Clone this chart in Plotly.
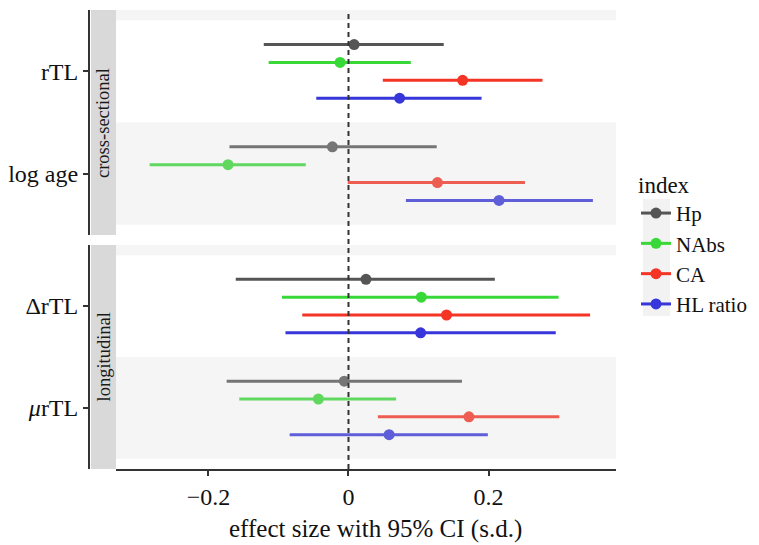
import plotly.graph_objects as go

W, H = 759, 545

# ---------------- data ----------------
indices = ["Hp", "NAbs", "CA", "HL ratio"]
colors = ["#555555", "#38D838", "#F43424", "#3636DA"]

panel_top = ["rTL", "log age"]
panel_bot = ["ΔrTL", "<i>μ</i>rTL"]
strip_labels = ["cross-sectional", "longitudinal"]
x_title = "effect size with 95% CI (s.d.)"

# estimates [rTL, log age, ΔrTL, μrTL]
est = {
    "Hp":       [0.008, -0.023, 0.025, -0.006],
    "NAbs":     [-0.012, -0.172, 0.104, -0.043],
    "CA":       [0.163, 0.127, 0.140, 0.172],
    "HL ratio": [0.073, 0.215, 0.103, 0.058],
}
lo = {
    "Hp":       [-0.121, -0.170, -0.161, -0.174],
    "NAbs":     [-0.114, -0.284, -0.095, -0.156],
    "CA":       [0.049, -0.001, -0.066, 0.042],
    "HL ratio": [-0.046, 0.082, -0.090, -0.084],
}
hi = {
    "Hp":       [0.136, 0.126, 0.209, 0.162],
    "NAbs":     [0.089, -0.061, 0.300, 0.068],
    "CA":       [0.277, 0.252, 0.345, 0.301],
    "HL ratio": [0.190, 0.349, 0.296, 0.199],
}
x_ticks = [-0.2, 0, 0.2]
x_ticklabels = ["−0.2", "0", "0.2"]

# ---------------- layout helpers ----------------
def px_x(p):
    return p / W

def px_y(p):
    return 1 - p / H

FONT = "Liberation Serif"
dodge = 0.7
n = len(indices)
offsets = [dodge * (0.5 - (i + 0.5) / n) for i in range(n)]  # Hp on top

# category numeric positions: first label on top (2), second below (1)
cat_pos = [2, 1]

fig = go.Figure()

for i, name in enumerate(indices):
    c = colors[i]
    for panel, (yax, sl) in enumerate([("y", slice(0, 2)), ("y2", slice(2, 4))]):
        e = est[name][sl]
        l = lo[name][sl]
        h = hi[name][sl]
        ys = [p + offsets[i] for p in cat_pos]
        fig.add_trace(go.Scatter(
            x=e, y=ys, mode="markers", yaxis=yax, xaxis="x",
            marker=dict(color=c, size=11),
            error_x=dict(type="data", symmetric=False,
                         array=[b - a for a, b in zip(e, h)],
                         arrayminus=[a - b for a, b in zip(e, l)],
                         color=c, thickness=3, width=0),
            showlegend=False, hoverinfo="skip",
        ))
    # legend-only entry
    fig.add_trace(go.Scatter(
        x=[None], y=[None], mode="lines+markers", name=name,
        line=dict(color=c, width=3), marker=dict(color=c, size=11),
        xaxis="x", yaxis="y",
    ))

xdom = [px_x(116), px_x(616)]
top_dom = [px_y(235), px_y(10)]
bot_dom = [px_y(469), px_y(245)]

axis_col = "#333333"
tickfont = dict(family=FONT, size=24, color="#111111")

fig.update_layout(
    width=W, height=H,
    margin=dict(l=0, r=0, t=0, b=0, autoexpand=False),
    paper_bgcolor="white", plot_bgcolor="white",
    font=dict(family=FONT, size=22, color="#111111"),
    xaxis=dict(domain=xdom, range=[-0.332, 0.382], anchor="y2",
               tickvals=x_ticks, ticktext=x_ticklabels, ticks="outside",
               ticklen=5, tickwidth=1.5, tickcolor=axis_col,
               showline=True, linecolor=axis_col, linewidth=2,
               showgrid=False, zeroline=False, tickfont=tickfont),
    yaxis=dict(domain=top_dom, range=[0.4, 2.6], anchor="free",
               position=px_x(89), tickvals=cat_pos, ticktext=panel_top,
               ticks="outside", ticklen=5, tickwidth=1.5, tickcolor=axis_col,
               showline=True, linecolor=axis_col, linewidth=2,
               showgrid=False, zeroline=False, tickfont=tickfont),
    yaxis2=dict(domain=bot_dom, range=[0.4, 2.6], anchor="free",
                position=px_x(89), tickvals=cat_pos, ticktext=panel_bot,
                ticks="outside", ticklen=5, tickwidth=1.5, tickcolor=axis_col,
                showline=True, linecolor=axis_col, linewidth=2,
                showgrid=False, zeroline=False, tickfont=tickfont),
    legend=dict(x=px_x(636), y=px_y(163), xanchor="left", yanchor="top",
                bgcolor="rgba(0,0,0,0)",
                font=dict(family=FONT, size=21, color="#111111"),
                title=dict(text="index", font=dict(family=FONT, size=23)),
                itemwidth=30, tracegroupgap=0),
)

shapes = []
# stripe overlays (drawn above data, semi-transparent)
for yref in ["y", "y2"]:
    for (a, b) in [(0.5, 1.5), (2.5, 2.6)]:
        shapes.append(dict(type="rect", xref="x domain", yref=yref,
                           x0=0, x1=1, y0=a, y1=b, layer="above",
                           line=dict(width=0),
                           fillcolor="rgba(215,215,215,0.25)"))
# strips
for (t, b) in [(10, 235), (245, 469)]:
    shapes.append(dict(type="rect", xref="paper", yref="paper",
                       x0=px_x(91), x1=px_x(116), y0=px_y(b), y1=px_y(t),
                       line=dict(width=0), fillcolor="#D9D9D9", layer="below"))
# zero reference line across both panels
shapes.append(dict(type="line", xref="x", yref="paper", x0=0, x1=0,
                   y0=px_y(469), y1=px_y(10),
                   line=dict(color="#333333", width=2, dash="5px,4px"),
                   layer="above"))
# legend key background
shapes.append(dict(type="rect", xref="paper", yref="paper",
                   x0=px_x(643), x1=px_x(670), y0=px_y(316), y1=px_y(199),
                   line=dict(width=0), fillcolor="#F2F2F2", layer="below"))
fig.update_layout(shapes=shapes)

annotations = []
for lab, (t, b) in zip(strip_labels, [(10, 235), (245, 469)]):
    annotations.append(dict(text=lab, xref="paper", yref="paper",
                            x=px_x(103.5), y=px_y((t + b) / 2),
                            showarrow=False, textangle=-90,
                            font=dict(family=FONT, size=18.5, color="#1a1a1a"),
                            xanchor="center", yanchor="middle"))
# x-axis title
annotations.append(dict(text=x_title, xref="paper", yref="paper",
                        x=px_x(375), y=px_y(544), showarrow=False,
                        font=dict(family=FONT, size=25, color="#111111"),
                        xanchor="center", yanchor="bottom", borderpad=0))
fig.update_layout(annotations=annotations)

fig.write_html("out.html",
               config={"displayModeBar": False},
               post_script="document.body.style.margin='0';document.body.style.padding='0';")
